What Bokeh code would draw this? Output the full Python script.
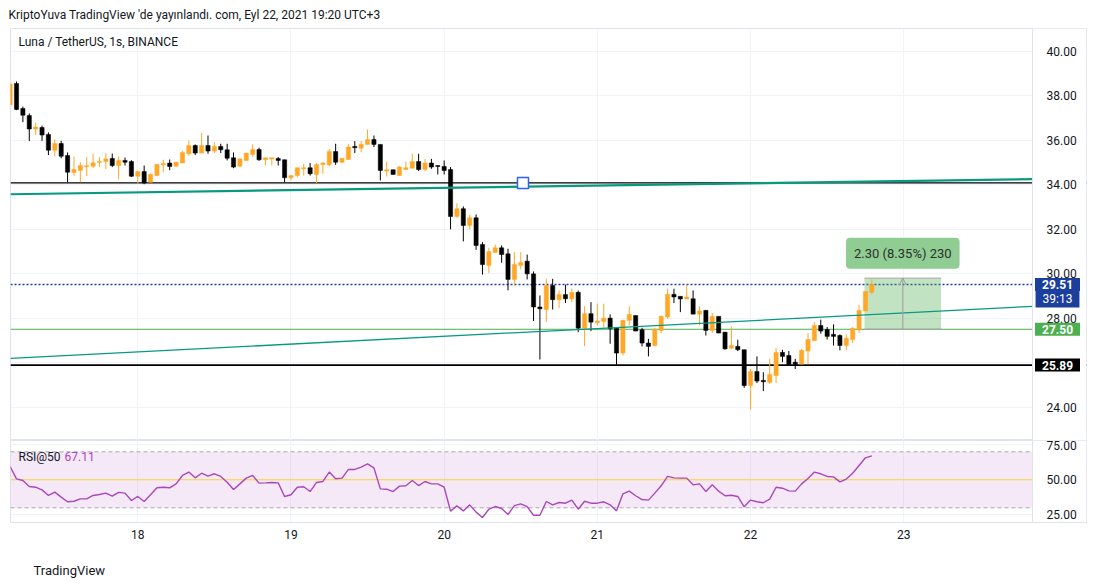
from bokeh.plotting import figure
from bokeh.layouts import column
from bokeh.models import (Range1d, FixedTicker, NumeralTickFormatter, Span, Label,
                          BoxAnnotation, Arrow, OpenHead, ColumnDataSource)
from bokeh.embed import file_html
from bokeh.resources import INLINE

FONT = "Roboto"
TXT = "#131722"

# ---------------- data: hourly candles (hour 0 = 17 Sep 00:00) ----------------
first_hour = 4
open_ = [37.59, 38.55, 37.42, 37.11, 36.50, 36.57, 36.26, 35.55, 35.85, 35.31,
         34.55, 34.64, 34.80, 34.83, 35.00, 35.04, 35.18, 34.86, 35.09, 35.04,
         34.38, 34.59, 34.11, 34.41, 34.89, 34.97, 34.83, 34.97, 35.39, 35.76,
         35.42, 35.76, 35.51, 35.72, 35.57, 35.21, 34.83, 35.09, 35.36, 35.58,
         35.12, 35.15, 35.18, 35.12, 34.31, 34.41, 34.71, 34.76, 34.46, 34.91,
         34.89, 35.49, 35.01, 35.13, 35.72, 35.64, 35.81, 36.03, 35.81, 34.61,
         34.67, 34.41, 34.68, 34.74, 35.04, 34.68, 34.97, 34.86, 34.82, 34.68,
         32.57, 32.92, 32.17, 32.51, 31.31, 30.37, 30.95, 31.16, 30.89, 29.74,
         30.37, 30.56, 29.99, 28.50, 28.39, 29.47, 28.83, 29.06, 28.87, 29.16,
         27.55, 28.20, 27.79, 27.85, 28.00, 27.55, 26.43, 27.90, 28.12, 27.48,
         26.88, 26.77, 27.45, 28.05, 29.07, 28.98, 28.86, 28.87, 28.18, 28.35,
         27.45, 28.08, 27.37, 26.65, 26.73, 26.58, 24.97, 25.60, 25.20, 25.11,
         25.42, 26.46, 26.32, 26.02, 25.93, 26.52, 26.99, 27.67, 27.49, 27.27,
         27.22, 26.77, 27.04, 27.48, 28.32, 29.16]
high = [38.55, 38.64, 37.51, 37.20, 36.80, 36.65, 36.35, 36.03, 35.97, 35.45,
        35.27, 35.01, 35.24, 35.40, 35.24, 35.43, 35.40, 35.27, 35.22, 35.10,
        34.59, 34.86, 34.50, 34.93, 35.12, 35.13, 35.03, 35.51, 35.99, 35.81,
        36.33, 36.21, 35.91, 35.84, 35.84, 35.45, 35.16, 35.42, 35.81, 35.66,
        35.21, 35.21, 35.24, 35.12, 34.41, 34.76, 34.94, 34.97, 34.97, 35.01,
        35.61, 35.84, 35.19, 35.84, 35.96, 35.96, 36.48, 36.21, 35.81, 35.04,
        34.67, 34.83, 35.04, 35.39, 35.39, 35.16, 35.16, 34.86, 35.09, 34.79,
        33.17, 33.02, 32.65, 32.66, 31.42, 31.16, 31.31, 31.27, 31.12, 30.97,
        30.97, 30.86, 30.10, 29.02, 29.77, 29.77, 29.24, 29.51, 29.33, 29.24,
        28.54, 28.72, 28.65, 28.65, 28.17, 27.55, 27.93, 28.53, 28.12, 27.57,
        27.07, 27.57, 28.12, 29.32, 29.32, 28.98, 29.51, 29.25, 28.53, 28.35,
        28.23, 28.08, 27.37, 27.63, 27.03, 26.58, 25.72, 26.28, 25.57, 26.17,
        26.67, 26.58, 26.52, 26.17, 26.62, 27.33, 27.82, 27.93, 27.60, 27.72,
        27.27, 27.27, 27.60, 28.60, 29.20, 29.74]
low = [37.57, 37.35, 36.81, 35.96, 36.24, 35.97, 35.33, 35.28, 35.19, 34.11,
       34.38, 34.11, 34.38, 34.74, 34.79, 34.70, 34.79, 34.23, 34.86, 34.34,
       34.04, 34.02, 34.11, 34.38, 34.56, 34.65, 34.82, 34.97, 35.30, 35.33,
       35.42, 35.39, 35.42, 35.42, 35.09, 34.74, 34.83, 35.09, 35.24, 35.07,
       34.86, 34.86, 34.86, 34.11, 34.19, 34.34, 34.41, 34.41, 34.07, 34.49,
       34.82, 34.89, 34.97, 35.13, 35.42, 35.46, 35.81, 35.69, 34.19, 34.37,
       34.46, 34.41, 34.68, 34.74, 34.61, 34.61, 34.71, 34.46, 34.46, 31.99,
       32.51, 31.45, 31.99, 31.07, 29.96, 30.02, 30.95, 30.49, 29.25, 29.47,
       30.19, 29.74, 27.87, 26.14, 27.82, 28.39, 28.45, 28.68, 28.72, 27.37,
       26.74, 27.42, 27.67, 27.57, 26.85, 25.87, 26.32, 27.67, 27.42, 26.73,
       26.28, 26.73, 27.33, 27.97, 28.68, 28.27, 28.86, 28.18, 27.67, 27.22,
       27.33, 27.33, 26.58, 26.62, 26.52, 24.87, 23.89, 25.08, 24.72, 25.05,
       25.08, 26.02, 25.92, 25.71, 25.93, 25.92, 26.99, 27.30, 27.04, 26.77,
       26.55, 26.55, 26.88, 27.33, 28.32, 29.09]
close = [38.53, 37.38, 37.12, 36.50, 36.59, 36.23, 35.55, 35.85, 35.28, 34.56,
         34.68, 34.86, 34.85, 34.98, 35.04, 35.16, 34.86, 35.09, 35.01, 34.38,
         34.59, 34.08, 34.46, 34.91, 34.95, 34.82, 35.01, 35.45, 35.76, 35.42,
         35.76, 35.51, 35.72, 35.57, 35.19, 34.79, 35.16, 35.42, 35.58, 35.12,
         35.21, 35.21, 35.09, 34.31, 34.41, 34.76, 34.76, 34.49, 34.91, 34.97,
         35.49, 35.01, 35.19, 35.69, 35.66, 35.81, 36.03, 35.81, 34.64, 34.67,
         34.46, 34.79, 34.76, 35.04, 34.68, 34.97, 34.79, 34.82, 34.64, 32.57,
         32.92, 32.17, 32.51, 31.27, 30.41, 30.99, 31.16, 30.86, 29.74, 30.41,
         30.50, 29.99, 28.50, 28.42, 29.47, 28.83, 29.06, 28.87, 29.16, 27.55,
         28.20, 27.82, 27.87, 28.00, 27.52, 26.43, 27.90, 28.17, 27.42, 26.88,
         26.73, 27.49, 28.08, 29.07, 28.95, 28.86, 28.95, 28.18, 28.32, 27.45,
         28.08, 27.33, 26.62, 26.77, 26.58, 24.97, 25.60, 25.17, 25.14, 25.47,
         26.46, 26.28, 25.92, 25.93, 26.55, 27.04, 27.67, 27.42, 27.18, 27.18,
         26.77, 27.10, 27.54, 28.35, 29.20, 29.51]
rsi = [59.5, 50.7, 49.5, 45.2, 44.7, 42.8, 38.8, 41.2, 37.6, 34.3,
       34.7, 36.4, 36.4, 38.8, 39.5, 40.5, 38.3, 41.0, 40.5, 35.2,
       38.1, 34.5, 39.3, 44.3, 44.7, 44.3, 47.1, 53.1, 55.5, 51.4,
       54.7, 52.6, 54.3, 52.4, 48.3, 43.1, 47.1, 51.2, 53.1, 47.6,
       47.8, 48.1, 47.8, 38.1, 39.3, 44.7, 45.0, 41.6, 48.1, 48.8,
       55.5, 50.7, 51.2, 57.4, 57.4, 59.0, 61.4, 58.5, 43.5, 43.3,
       41.6, 45.5, 45.7, 49.5, 45.9, 48.8, 47.1, 47.1, 44.7, 27.6,
       31.4, 27.8, 32.1, 26.9, 23.1, 29.0, 30.9, 29.5, 25.2, 31.6,
       32.8, 30.9, 24.7, 24.7, 34.5, 32.1, 33.8, 33.3, 35.5, 29.0,
       34.7, 33.3, 33.3, 34.3, 32.1, 27.8, 40.0, 41.9, 38.6, 35.9,
       35.5, 40.5, 45.7, 52.4, 51.4, 51.2, 51.2, 46.4, 47.1, 41.6,
       46.4, 41.9, 38.6, 39.0, 38.1, 30.7, 35.5, 34.3, 33.6, 36.2,
       44.7, 44.0, 42.1, 41.9, 47.1, 50.9, 55.5, 54.3, 52.4, 52.1,
       48.5, 50.5, 54.7, 60.2, 65.7, 67.11]

day_ticks = [24, 48, 72, 96, 120, 144]
day_labels = ["18", "19", "20", "21", "22", "23"]
price_ticks = [24, 26, 28, 30, 32, 34, 36, 38, 40]
hidden_price_ticks = [26]          # covered by the 25.89 tag in the original
rsi_ticks = [25, 50, 75]
rsi_bands = [30, 50, 70]

resistance_level = 34.08
support_level = 25.89
green_level = 27.50
last_price = 29.51
countdown = "39:13"
thick_trend_x = [4.06, 164.17]
thick_trend_y = [33.57, 34.25]
thin_trend_x = [4.06, 164.17]
thin_trend_y = [26.19, 28.53]
anchor_x = [84.35]
anchor_y = [34.08]
measure_x0, measure_x1 = 137.85, 149.85
measure_low, measure_high = 27.50, 29.80
measure_text = "2.30 (8.35%) 230"

title_text = "KriptoYuva TradingView 'de yayınlandı. com, Eyl 22, 2021 19:20 UTC+3"
symbol_text = "Luna / TetherUS, 1s, BINANCE"
brand_text = "TradingView"

UP = "#FFA726"
DOWN = "#000000"
GRID = "#F0F3FA"
BORDER = "#E0E3EB"

hours = list(range(first_hour, first_hour + len(close)))
colors = [UP if c >= o else DOWN for o, c in zip(open_, close)]
src = ColumnDataSource(dict(x=hours, o=open_, h=high, l=low, c=close, col=colors))

# the frame covers the price-scale column too; the axis is pinned at AXIS_X
AXIS_X = 164.17
X_RANGE = Range1d(4.06, 172.63)


def style_axis(a):
    a.major_tick_line_color = None
    a.minor_tick_line_color = None
    a.major_tick_out = 0
    a.major_tick_in = 0
    a.axis_line_color = BORDER
    a.major_label_text_font = FONT
    a.major_label_text_font_size = "12px"
    a.major_label_text_color = TXT


def cover(p):
    # blank out grid lines inside the price-scale column
    p.add_layout(BoxAnnotation(left=AXIS_X, fill_color="white", fill_alpha=1.0,
                               line_color=None, level="underlay"))


# ---------------- price pane ----------------
p1 = figure(width=1094, height=440, x_range=X_RANGE, y_range=Range1d(22.50, 41.02),
            output_backend="svg", toolbar_location=None, x_axis_location=None,
            y_axis_location="right", min_border_left=10, min_border_right=8,
            min_border_top=28, min_border_bottom=0)
p1.outline_line_color = BORDER
p1.background_fill_color = "white"
p1.border_fill_color = "white"
p1.xgrid.ticker = FixedTicker(ticks=day_ticks)
p1.xgrid.grid_line_color = GRID
p1.ygrid.grid_line_color = GRID
ax = p1.yaxis[0]
ax.ticker = FixedTicker(ticks=price_ticks)
ax.formatter = NumeralTickFormatter(format="0.00")
ax.major_label_overrides = {t: "" for t in hidden_price_ticks}
ax.fixed_location = AXIS_X
ax.major_label_standoff = 14
style_axis(ax)

# horizontal drawings (under the cover, so they stop at the price scale)
p1.add_layout(Span(location=resistance_level, dimension="width", line_color="black",
                   line_width=1.4, level="underlay"))
p1.add_layout(Span(location=support_level, dimension="width", line_color="black",
                   line_width=1.6, level="underlay"))
p1.add_layout(Span(location=green_level, dimension="width", line_color="#4CAF50",
                   line_width=1, level="underlay"))
p1.add_layout(Span(location=last_price, dimension="width", line_color="#1C3F9E",
                   line_width=1.5, line_dash="2 2", level="underlay"))
cover(p1)

# measurement box
p1.quad(left=[measure_x0], right=[measure_x1], bottom=[measure_low], top=[measure_high],
        fill_color="#4CAF50", fill_alpha=0.35, line_color=None)
p1.segment(x0=[measure_x0, measure_x0], x1=[measure_x1, measure_x1],
           y0=[measure_low, measure_high], y1=[measure_low, measure_high],
           line_color="#A8A8A8", line_width=1)
mid_x = (measure_x0 + measure_x1) / 2
p1.add_layout(Arrow(end=OpenHead(size=7, line_color="#A0A0A0", line_width=1),
                    x_start=mid_x, y_start=measure_low, x_end=mid_x, y_end=measure_high,
                    line_color="#A0A0A0", line_width=1))

# candles
p1.segment(x0="x", x1="x", y0="h", y1="l", color="col", line_width=1, source=src)
p1.vbar(x="x", width=0.66, top="o", bottom="c", fill_color="col", line_color="col",
        line_width=0.5, source=src)

# trend lines
p1.line(thick_trend_x, thick_trend_y, line_color="#089981", line_width=2.2)
p1.line(thin_trend_x, thin_trend_y, line_color="#089981", line_width=1.3)
p1.scatter(anchor_x, anchor_y, marker="square", size=11, fill_color="white",
           line_color="#2962FF", line_width=1.5)

# texts inside frame
p1.add_layout(Label(x=8, y=399, x_units="screen", y_units="screen", text=symbol_text,
                    text_font=FONT, text_font_size="12px", text_color=TXT,
                    text_baseline="middle"))
p1.add_layout(Label(x=mid_x, y=measure_high + 1.12, text=measure_text, text_font=FONT,
                    text_font_size="13px", text_color="#2E2E2E", text_align="center",
                    text_baseline="middle", background_fill_color="#8FCD92",
                    padding=8, border_radius=4))

# price tags on the price scale
def tag(y, text, bg, bold=True):
    p1.add_layout(Label(x=1047, y=y, x_units="screen", text=text, text_font=FONT,
                        text_font_size="12px", text_color="white",
                        text_font_style="bold" if bold else "normal",
                        text_align="center", text_baseline="middle",
                        background_fill_color=bg, padding=(7, 2)))

tag(last_price - 0.63, countdown, "#1C3F9E", bold=False)
tag(last_price, f"{last_price:.2f}", "#1C3F9E")
tag(green_level, f"{green_level:.2f}", "#4CAF50")
tag(support_level, f"{support_level:.2f}", "#000000")

# title in the top border
title_lbl = Label(x=-2, y=14, x_units="screen", y_units="screen", text=title_text,
                  text_font=FONT, text_font_size="12px", text_color=TXT,
                  text_baseline="middle")
p1.above = [title_lbl]

# ---------------- RSI pane ----------------
p2 = figure(width=1094, height=148, x_range=X_RANGE, y_range=Range1d(19.5, 78.07),
            output_backend="svg", toolbar_location=None, y_axis_location="right",
            min_border_left=10, min_border_right=8, min_border_top=0, min_border_bottom=66)
p2.outline_line_color = BORDER
p2.background_fill_color = "white"
p2.border_fill_color = "white"
p2.xgrid.grid_line_color = GRID
p2.ygrid.grid_line_color = GRID
p2.xgrid.ticker = FixedTicker(ticks=day_ticks)
ax2 = p2.yaxis[0]
ax2.ticker = FixedTicker(ticks=rsi_ticks)
ax2.formatter = NumeralTickFormatter(format="0.00")
ax2.fixed_location = AXIS_X
ax2.major_label_standoff = 14
style_axis(ax2)

xa = p2.xaxis[0]
xa.ticker = FixedTicker(ticks=day_ticks)
xa.major_label_overrides = {t: l for t, l in zip(day_ticks, day_labels)}
xa.major_label_standoff = 7
style_axis(xa)

p2.add_layout(BoxAnnotation(bottom=rsi_bands[0], top=rsi_bands[2], right=AXIS_X,
                            fill_color="#9C27B0", fill_alpha=0.1, line_color=None,
                            level="underlay"))
p2.add_layout(Span(location=rsi_bands[2], dimension="width", line_color="#B0A2B8",
                   line_width=1, line_dash="4 3", level="underlay"))
p2.add_layout(Span(location=rsi_bands[0], dimension="width", line_color="#B0A2B8",
                   line_width=1, line_dash="4 3", level="underlay"))
p2.add_layout(Span(location=rsi_bands[1], dimension="width", line_color="#FDD835",
                   line_width=1, level="underlay"))
cover(p2)
p2.line(hours, rsi, line_color="#AB47BC", line_width=1.4)

p2.add_layout(Label(x=8, y=66, x_units="screen", y_units="screen", text="RSI@50",
                    text_font=FONT, text_font_size="12px", text_color=TXT,
                    text_baseline="middle"))
p2.add_layout(Label(x=54, y=66, x_units="screen", y_units="screen", text=f"{rsi[-1]:.2f}",
                    text_font=FONT, text_font_size="12px", text_color="#AB47BC",
                    text_baseline="middle"))
brand_lbl = Label(x=23, y=-14, x_units="screen", y_units="screen", text=brand_text,
                  text_font=FONT, text_font_size="13px", text_color=TXT,
                  text_baseline="middle")
p2.below = [xa, brand_lbl]

layout = column(p1, p2, spacing=0)
open("out.html", "w").write(file_html(layout, INLINE))
